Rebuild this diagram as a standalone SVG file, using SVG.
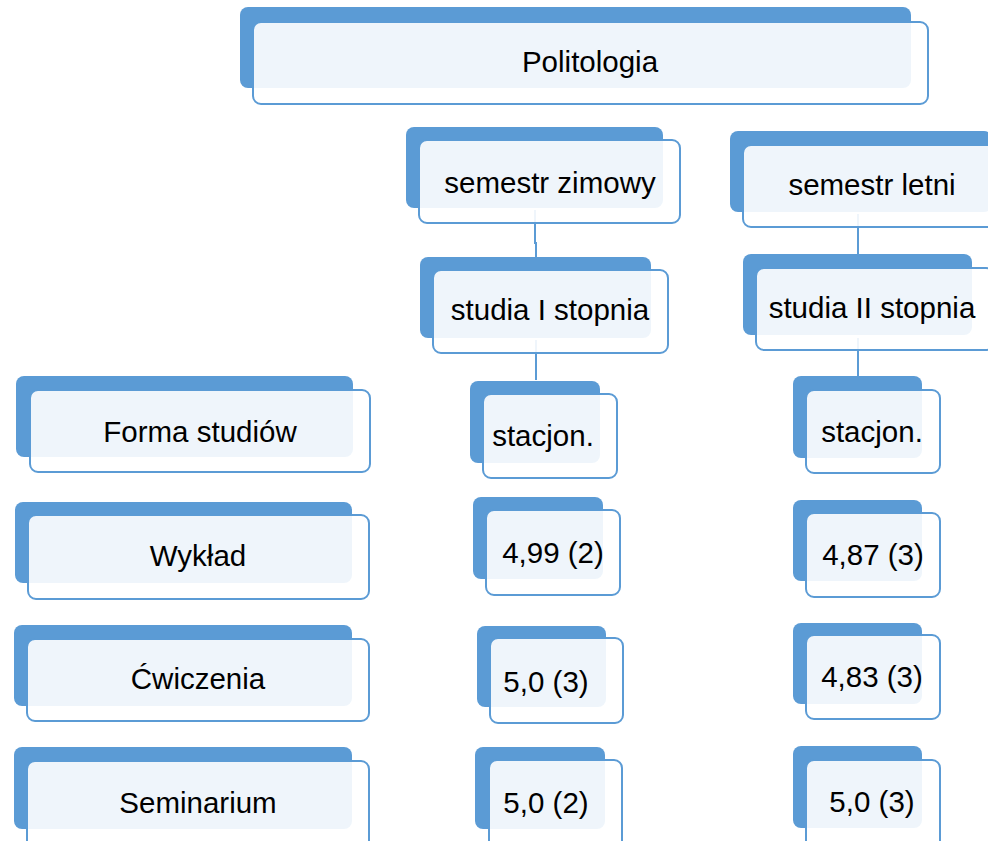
<svg xmlns="http://www.w3.org/2000/svg" width="988" height="841" viewBox="0 0 988 841">
<style>
.b{fill:#5B9BD5}
.f{fill:#FFFFFF;fill-opacity:0.9;stroke:#5B9BD5;stroke-width:2}
.t{font-family:"Liberation Sans",Arial,sans-serif;font-size:29.5px;fill:#000;text-anchor:middle}
.c{stroke:#5B9BD5;stroke-width:2;fill:none}
</style>
<rect width="988" height="841" fill="#FFFFFF"/>
<g id="connectors">
<path class="c" d="M535,210 V243 H536 V258"/>
<path class="c" d="M536,340 V380"/>
<path class="c" d="M858,214 V256"/>
<path class="c" d="M858,338 V378"/>
</g>
<g id="politologia"><rect class="b" x="240" y="7" width="671" height="81" rx="8"/><rect class="f" x="253" y="22" width="675" height="82" rx="8"/><text class="t" x="590" y="72">Politologia</text></g>
<g id="semestr-zimowy"><rect class="b" x="406" y="127" width="257" height="81" rx="8"/><rect class="f" x="419" y="140" width="261" height="83" rx="8"/><text class="t" x="550" y="193">semestr zimowy</text></g>
<g id="semestr-letni"><rect class="b" x="730" y="131" width="262" height="81" rx="8"/><rect class="f" x="743" y="145" width="252" height="82" rx="8"/><text class="t" x="872" y="195">semestr letni</text></g>
<g id="studia-1"><rect class="b" x="420" y="257" width="231" height="81" rx="8"/><rect class="f" x="433" y="270" width="235" height="83" rx="8"/><text class="t" x="550" y="320">studia I stopnia</text></g>
<g id="studia-2"><rect class="b" x="743" y="254" width="229" height="81" rx="8"/><rect class="f" x="756" y="268" width="238" height="82" rx="8"/><text class="t" x="872" y="318">studia II stopnia</text></g>
<g id="forma"><rect class="b" x="16" y="376" width="337" height="81" rx="8"/><rect class="f" x="30" y="390" width="340" height="82" rx="8"/><text class="t" x="200" y="442">Forma studiów</text></g>
<g id="stacjon-1"><rect class="b" x="470" y="381" width="130" height="82" rx="8"/><rect class="f" x="483" y="394" width="134" height="84" rx="8"/><text class="t" x="543" y="446">stacjon.</text></g>
<g id="stacjon-2"><rect class="b" x="793" y="376" width="129" height="82" rx="8"/><rect class="f" x="806" y="390" width="134" height="83" rx="8"/><text class="t" x="872" y="442">stacjon.</text></g>
<g id="wyklad"><rect class="b" x="15" y="502" width="337" height="81" rx="8"/><rect class="f" x="28" y="515" width="341" height="84" rx="8"/><text class="t" x="198" y="566">Wykład</text></g>
<g id="wyklad-1"><rect class="b" x="473" y="497" width="130" height="82" rx="8"/><rect class="f" x="486" y="510" width="134" height="85" rx="8"/><text class="t" x="553" y="563">4,99 (2)</text></g>
<g id="wyklad-2"><rect class="b" x="793" y="500" width="129" height="81" rx="8"/><rect class="f" x="806" y="513" width="134" height="84" rx="8"/><text class="t" x="873" y="565">4,87 (3)</text></g>
<g id="cwiczenia"><rect class="b" x="14" y="625" width="338" height="81" rx="8"/><rect class="f" x="27" y="639" width="342" height="82" rx="8"/><text class="t" x="198" y="689">Ćwiczenia</text></g>
<g id="cwiczenia-1"><rect class="b" x="477" y="626" width="129" height="81" rx="8"/><rect class="f" x="490" y="638" width="133" height="85" rx="8"/><text class="t" x="546" y="692">5,0 (3)</text></g>
<g id="cwiczenia-2"><rect class="b" x="793" y="623" width="129" height="81" rx="8"/><rect class="f" x="806" y="635" width="134" height="84" rx="8"/><text class="t" x="872" y="687">4,83 (3)</text></g>
<g id="seminarium"><rect class="b" x="14" y="747" width="338" height="82" rx="8"/><rect class="f" x="27" y="761" width="342" height="90" rx="8"/><text class="t" x="198" y="813">Seminarium</text></g>
<g id="seminarium-1"><rect class="b" x="475" y="747" width="130" height="82" rx="8"/><rect class="f" x="489" y="760" width="133" height="90" rx="8"/><text class="t" x="546" y="813">5,0 (2)</text></g>
<g id="seminarium-2"><rect class="b" x="793" y="746" width="129" height="82" rx="8"/><rect class="f" x="806" y="760" width="134" height="90" rx="8"/><text class="t" x="872" y="812">5,0 (3)</text></g>
</svg>
